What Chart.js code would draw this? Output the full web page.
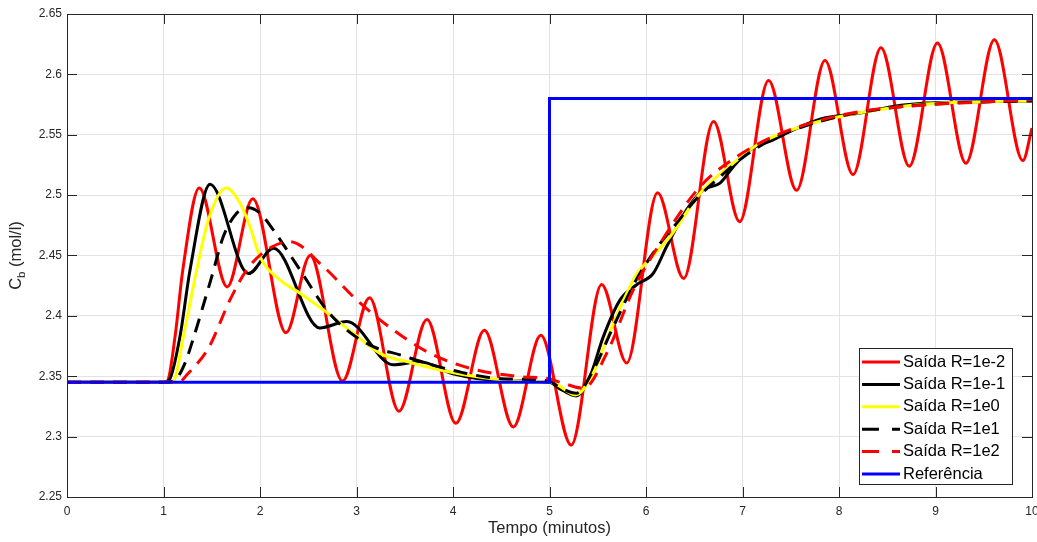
<!DOCTYPE html>
<html>
<head>
<meta charset="utf-8">
<script src="https://cdn.jsdelivr.net/npm/chart.js@4.4.1/dist/chart.umd.min.js"></script>
<style>
  html, body { margin: 0; padding: 0; background: #fff; }
</style>
</head>
<body>
<canvas id="chart" width="1037" height="542"></canvas>
<script>
// tick labels
const xTicks = ['0', '1', '2', '3', '4', '5', '6', '7', '8', '9', '10'];
const yTicks = ['2.25', '2.3', '2.35', '2.4', '2.45', '2.5', '2.55', '2.6', '2.65'];

// Saída R=1e-2
const tR2 = [0, 1.0, 1.04, 1.12, 1.2, 1.37, 1.66, 1.925, 2.27, 2.52, 2.855, 3.135, 3.44, 3.73, 4.03, 4.325, 4.625, 4.91, 5.225, 5.54, 5.80, 6.12, 6.39, 6.70, 6.97, 7.27, 7.56, 7.855, 8.145, 8.435, 8.728, 9.02, 9.315, 9.61, 9.905, 10.0];
const yR2 = [2.345, 2.345, 2.346, 2.383, 2.438, 2.506, 2.424, 2.497, 2.386, 2.450, 2.346, 2.415, 2.321, 2.397, 2.311, 2.388, 2.308, 2.384, 2.293, 2.426, 2.361, 2.502, 2.431, 2.561, 2.478, 2.595, 2.504, 2.6115, 2.517, 2.622, 2.524, 2.626, 2.5265, 2.6286, 2.5286, 2.5555];

// Saída R=1e-1
const tR1 = [0, 1.0, 1.06, 1.171, 1.275, 1.482, 1.88, 2.14, 2.62, 2.9, 3.38, 3.66, 4.0, 4.5, 5.0, 5.1, 5.275, 5.42, 5.558, 5.73, 5.90, 6.076, 6.214, 6.42, 6.594, 6.767, 6.905, 7.078, 7.319, 7.526, 7.803, 8.218, 8.563, 8.909, 9.6, 10.0];
const yR1 = [2.345, 2.345, 2.347, 2.383, 2.438, 2.509, 2.435, 2.456, 2.390, 2.3953, 2.3595, 2.362, 2.352, 2.3465, 2.345, 2.340, 2.3337, 2.350, 2.3828, 2.413, 2.4256, 2.4353, 2.4574, 2.4878, 2.5044, 2.51, 2.5236, 2.5375, 2.5458, 2.554, 2.5629, 2.568, 2.5734, 2.5762, 2.5776, 2.578];

// Saída R=1e0
const tR0 = [0, 1.0, 1.1, 1.206, 1.344, 1.465, 1.65, 1.793, 1.896, 2.0, 2.207, 2.415, 2.656, 2.967, 3.244, 3.589, 3.865, 4.3, 4.7, 5.0, 5.1, 5.265, 5.45, 5.6, 5.75, 5.9, 6.1, 6.25, 6.56, 6.905, 7.18, 7.73, 8.2, 8.9, 9.6, 10.0];
const yR0 = [2.345, 2.345, 2.346, 2.383, 2.438, 2.4795, 2.5058, 2.4933, 2.474, 2.449, 2.4298, 2.4188, 2.405, 2.3856, 2.369, 2.3608, 2.3552, 2.349, 2.346, 2.3455, 2.342, 2.3345, 2.352, 2.382, 2.41, 2.434, 2.452, 2.4657, 2.5016, 2.5265, 2.543, 2.5596, 2.568, 2.5755, 2.5775, 2.578];

// Saída R=1e1
const tR10 = [0, 1.0, 1.12, 1.223, 1.292, 1.5, 1.62, 1.758, 1.88, 2.0, 2.138, 2.415, 2.69, 2.898, 3.174, 3.451, 3.727, 4.1, 4.5, 5.0, 5.1, 5.28, 5.454, 5.661, 5.9, 6.1, 6.3, 6.5, 6.75, 7.0, 7.3, 7.6, 8.0, 8.5, 9.0, 9.5, 10.0];
const yR10 = [2.345, 2.345, 2.347, 2.3608, 2.377, 2.4325, 2.4657, 2.485, 2.4895, 2.485, 2.4712, 2.438, 2.405, 2.3884, 2.3745, 2.3677, 2.3608, 2.353, 2.348, 2.346, 2.341, 2.336, 2.3552, 2.391, 2.43, 2.455, 2.475, 2.495, 2.514, 2.531, 2.546, 2.556, 2.565, 2.572, 2.5755, 2.5772, 2.578];

// Saída R=1e2
const tR100 = [0, 1.0, 1.18, 1.24, 1.464, 1.689, 1.862, 2.07, 2.31, 2.656, 3.002, 3.381, 3.762, 4.176, 4.694, 4.971, 5.15, 5.35, 5.593, 5.868, 6.214, 6.56, 6.94, 7.319, 7.803, 8.218, 8.909, 9.599, 10.0];
const yR100 = [2.345, 2.345, 2.346, 2.351, 2.373, 2.4132, 2.438, 2.4546, 2.4615, 2.4408, 2.4132, 2.3884, 2.369, 2.3566, 2.3497, 2.3483, 2.344, 2.340, 2.369, 2.4215, 2.4685, 2.507, 2.5318, 2.5485, 2.562, 2.5692, 2.5748, 2.5775, 2.579];

// Referência
const tRef = [0, 5, 5, 10];
const yRef = [2.345, 2.345, 2.58, 2.58];

const fam = '"Liberation Sans", Arial, Helvetica, sans-serif';
const axisColor = '#262626';
const gridColor = '#e3e3e3';
Chart.defaults.font.family = fam;

const pts = (t, y) => t.map((v, i) => ({ x: v, y: y[i] }));

// box, inward ticks, y title with subscript, legend
const matlabFrame = {
  id: 'matlabFrame',
  afterDatasetsDraw(chart) {
    const { ctx, chartArea: a, scales: { x, y } } = chart;
    ctx.save();
    ctx.strokeStyle = axisColor;
    ctx.lineWidth = 1;
    ctx.beginPath();
    x.ticks.forEach(t => {
      const px = Math.round(x.getPixelForValue(t.value)) + 0.5;
      ctx.moveTo(px, a.bottom); ctx.lineTo(px, a.bottom - 10);
      ctx.moveTo(px, a.top); ctx.lineTo(px, a.top + 10);
    });
    y.ticks.forEach(t => {
      const py = Math.round(y.getPixelForValue(t.value)) + 0.5;
      ctx.moveTo(a.left, py); ctx.lineTo(a.left + 10, py);
      ctx.moveTo(a.right, py); ctx.lineTo(a.right - 10, py);
    });
    ctx.stroke();
    ctx.strokeRect(a.left + 0.5, a.top + 0.5, a.right - a.left, a.bottom - a.top);

    // y title: C_b (mol/l)
    const big = '16.5px ' + fam, small = '11.5px ' + fam;
    ctx.translate(21, (a.top + a.bottom) / 2);
    ctx.rotate(-Math.PI / 2);
    ctx.font = big;
    const wC = ctx.measureText('C').width;
    const rest = ' (mol/l)';
    const wR = ctx.measureText(rest).width;
    ctx.font = small;
    const wb = ctx.measureText('b').width;
    const sx = -(wC + wb + wR) / 2;
    ctx.fillStyle = axisColor;
    ctx.textBaseline = 'alphabetic';
    ctx.font = big; ctx.fillText('C', sx, 0);
    ctx.font = small; ctx.fillText('b', sx + wC, 4);
    ctx.font = big; ctx.fillText(rest, sx + wC + wb, 0);
    ctx.restore();

    // legend
    ctx.save();
    const bx = a.right - 173, by = a.bottom - 149, bw = 153, bh = 136;
    ctx.fillStyle = '#fff';
    ctx.fillRect(bx, by, bw, bh);
    ctx.strokeStyle = axisColor;
    ctx.lineWidth = 1;
    ctx.strokeRect(bx + 0.5, by + 0.5, bw, bh);
    ctx.font = '16.5px ' + fam;
    ctx.textBaseline = 'middle';
    chart.data.datasets.forEach((ds, i) => {
      const cy = by + 14 + i * 22.4;
      ctx.strokeStyle = ds.borderColor;
      ctx.lineWidth = 3;
      ctx.setLineDash(ds.borderDash ? [17, 13] : []);
      ctx.beginPath();
      ctx.moveTo(bx + 3, cy); ctx.lineTo(bx + 41, cy);
      ctx.stroke();
      ctx.setLineDash([]);
      ctx.fillStyle = '#000';
      ctx.fillText(ds.label, bx + 44, cy);
    });
    ctx.restore();
  }
};

const line = (label, t, y, color, dash, order) => ({
  label,
  data: pts(t, y),
  borderColor: color,
  borderWidth: 3,
  borderDash: dash,
  pointRadius: 0,
  fill: false,
  cubicInterpolationMode: 'monotone',
  borderJoinStyle: 'round',
  order
});

const ref = line('Referência', tRef, yRef, '#0000ff', undefined, 0);
ref.cubicInterpolationMode = 'default';
ref.tension = 0;
ref.borderJoinStyle = 'miter';

new Chart(document.getElementById('chart'), {
  type: 'line',
  data: {
    datasets: [
      line('Saída R=1e-2', tR2, yR2, '#ff0000', undefined, 5),
      line('Saída R=1e-1', tR1, yR1, '#000000', undefined, 4),
      line('Saída R=1e0', tR0, yR0, '#ffff00', undefined, 3),
      line('Saída R=1e1', tR10, yR10, '#000000', [14, 9], 2),
      line('Saída R=1e2', tR100, yR100, '#ff0000', [14, 9], 1),
      ref
    ]
  },
  options: {
    responsive: false,
    animation: false,
    events: [],
    layout: { padding: { top: 14, right: 5, left: 0, bottom: 0 } },
    plugins: { legend: { display: false }, tooltip: { enabled: false } },
    scales: {
      x: {
        type: 'linear',
        min: 0,
        max: 10,
        afterBuildTicks: s => { s.ticks = xTicks.map(v => ({ value: +v })); },
        ticks: { padding: 7, color: axisColor, font: { size: 12 }, maxRotation: 0, autoSkip: false,
          callback: (v, i) => xTicks[i] },
        grid: { color: gridColor, drawTicks: false },
        border: { display: false },
        title: { display: true, text: 'Tempo (minutos)', color: axisColor, font: { size: 16.5 },
          padding: { top: 0, bottom: 4 } },
        afterFit: s => { s.height = 45; s.paddingLeft = 0; s.paddingRight = 0; }
      },
      y: {
        type: 'linear',
        min: 2.25,
        max: 2.65,
        afterBuildTicks: s => { s.ticks = yTicks.map(v => ({ value: +v })); },
        ticks: { padding: 5, color: axisColor, font: { size: 12 }, autoSkip: false,
          callback: (v, i) => yTicks[i] },
        grid: { color: gridColor, drawTicks: false },
        border: { display: false },
        afterFit: s => { s.width = 67; s.paddingTop = 0; s.paddingBottom = 0; }
      }
    }
  },
  plugins: [matlabFrame]
});
</script>
</body>
</html>
